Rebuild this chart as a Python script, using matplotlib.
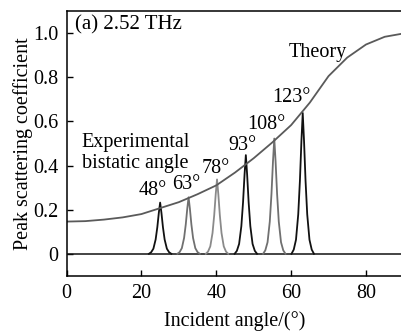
import matplotlib
matplotlib.use('Agg')
import matplotlib.pyplot as plt

# Theory curve, read every 5 degrees
theory_x = [0, 5, 10, 15, 20, 25, 30, 35, 40, 45, 50, 55, 60, 65, 70, 75, 80, 85, 90]
theory_y = [0.146, 0.148, 0.155, 0.165, 0.18, 0.207, 0.234, 0.27, 0.31, 0.368,
            0.433, 0.505, 0.583, 0.685, 0.805, 0.889, 0.948, 0.983, 0.998]

# Measured peaks
peak_labels = ['48°', '63°', '78°', '93°', '108°', '123°']
peak_centers = [25.0, 32.6, 40.2, 47.9, 55.5, 63.1]
peak_heights = [0.232, 0.256, 0.337, 0.447, 0.522, 0.638]
peak_colors = ['#111111', '#707070', '#8a8a8a', '#111111', '#707070', '#111111']

# Shape of one peak (offset in degrees, fraction of peak height)
profile_dx = [-3.0, -2.4, -1.8, -1.2, -0.75, -0.35, 0, 0.35, 0.75, 1.2, 1.8, 2.4, 3.0]
profile_f = [0, 0.03, 0.1, 0.28, 0.52, 0.8, 1, 0.8, 0.52, 0.28, 0.1, 0.03, 0]

# Label positions (x, y) in data units
label_x = [23.1, 32.0, 39.8, 46.9, 53.5, 60.2]
label_y = [0.289, 0.316, 0.388, 0.492, 0.587, 0.709]

plt.rcParams['font.family'] = 'Liberation Serif'

fs = 14.5

fig = plt.figure(figsize=(4.01, 3.32), dpi=100)
ax = fig.add_axes([0.166, 0.169, 0.84, 0.798])

# baseline
ax.plot([0.5, 90], [-0.003, -0.003], color='#111111', lw=1.1)

for c, h, col in zip(peak_centers, peak_heights, peak_colors):
    xs = [c + d for d in profile_dx]
    ys = [h * f for f in profile_f]
    ax.plot(xs, ys, color=col, lw=1.3)

ax.plot(theory_x, theory_y, color='#5a5a5a', lw=1.3)

for lab, lx, ly in zip(peak_labels, label_x, label_y):
    ax.text(lx, ly, lab, fontsize=fs, ha='center', va='center')

ax.text(2.3, 1.035, '(a) 2.52 THz', fontsize=15, ha='left', va='center')
ax.text(67.2, 0.912, 'Theory', fontsize=fs, ha='center', va='center')
ax.text(4.1, 0.506, 'Experimental', fontsize=fs, ha='left', va='center')
ax.text(4.1, 0.41, 'bistatic angle', fontsize=fs, ha='left', va='center')

ax.set_xlim(0, 90)
ax.set_ylim(-0.1, 1.1)
ax.set_xticks([0, 20, 40, 60, 80])
ax.set_xticklabels(['0', '20', '40', '60', '80'])
ax.set_yticks([0, 0.2, 0.4, 0.6, 0.8, 1.0])
ax.set_yticklabels(['0', '0.2', '0.4', '0.6', '0.8', '1.0'])
ax.tick_params(direction='in', length=4, width=1, labelsize=fs, pad=6)
ax.spines['right'].set_visible(False)
for s in ['left', 'bottom', 'top']:
    ax.spines[s].set_linewidth(1.1)

ax.set_xlabel('Incident angle/(°)', fontsize=fs, labelpad=6)
ax.set_ylabel('Peak scattering coefficient', fontsize=fs, labelpad=0)

fig.savefig('out.png', dpi=100)
